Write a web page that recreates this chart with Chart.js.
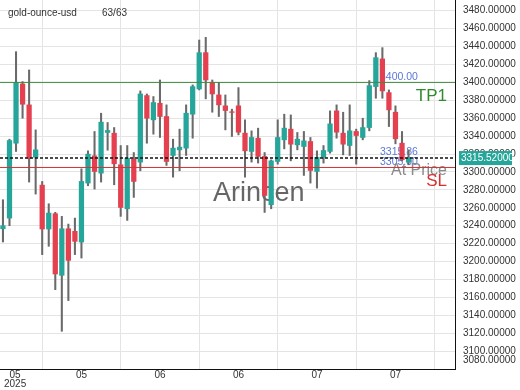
<!DOCTYPE html>
<html>
<head>
<meta charset="utf-8">
<script src="https://cdn.jsdelivr.net/npm/chart.js@4/dist/chart.umd.min.js"></script>
<style>
  html, body { margin: 0; padding: 0; background: #fff; }
</style>
</head>
<body>
<canvas id="myChart" width="520" height="390"></canvas>
<script>
// gold-ounce-usd daily candles (63)
const opens = [3236.6, 3248.5, 3332.1, 3398.3, 3374.9, 3316.5, 3285.3, 3236.3, 3253.4, 3184.6,
  3236.6, 3233.7, 3221.8, 3287.6, 3318.0, 3298.7, 3344.1, 3343.3, 3308.0, 3258.9,
  3314.3, 3311.0, 3385.3, 3358.2, 3376.7, 3361.9, 3318.4, 3324.7, 3326.6, 3364.5,
  3392.7, 3433.2, 3400.1, 3386.0, 3373.8, 3367.2, 3373.8, 3343.3, 3322.9, 3337.7,
  3317.3, 3263.4, 3311.7, 3335.9, 3347.8, 3330.3, 3328.4, 3334.0, 3300.6, 3316.5,
  3322.9, 3368.2, 3343.3, 3329.5, 3345.2, 3338.5, 3349.6, 3395.3, 3426.2, 3388.6,
  3366.7, 3332.1, 3311.0];
const highs = [3269.0, 3336.6, 3434.3, 3400.9, 3413.9, 3347.0, 3289.4, 3264.5, 3255.0, 3250.4,
  3241.8, 3248.5, 3303.5, 3323.6, 3345.2, 3365.6, 3355.2, 3349.6, 3329.5, 3329.5,
  3321.7, 3390.5, 3387.1, 3384.2, 3402.7, 3374.9, 3336.6, 3347.8, 3374.9, 3397.2,
  3447.3, 3450.3, 3402.7, 3400.1, 3386.0, 3370.1, 3394.2, 3358.2, 3345.9, 3348.9,
  3321.7, 3313.5, 3358.2, 3364.5, 3363.7, 3344.1, 3345.2, 3338.5, 3323.6, 3329.5,
  3368.2, 3374.9, 3366.7, 3374.9, 3347.8, 3360.0, 3402.0, 3433.2, 3438.8, 3391.6,
  3373.8, 3345.2, 3324.7];
const lows = [3221.8, 3240.0, 3322.9, 3360.0, 3288.7, 3275.3, 3207.7, 3217.0, 3168.6, 3122.1,
  3156.4, 3207.7, 3203.9, 3284.6, 3280.9, 3288.7, 3324.3, 3285.7, 3250.4, 3245.9,
  3271.6, 3301.3, 3332.1, 3342.2, 3338.5, 3307.3, 3294.2, 3301.3, 3318.4, 3337.7,
  3391.6, 3381.6, 3366.7, 3361.9, 3347.0, 3339.6, 3341.4, 3294.2, 3311.0, 3309.9,
  3254.8, 3258.9, 3308.7, 3325.8, 3312.4, 3324.7, 3296.1, 3287.6, 3282.0, 3309.9,
  3321.0, 3337.7, 3319.1, 3318.4, 3308.7, 3335.9, 3345.9, 3382.3, 3382.3, 3350.7,
  3331.4, 3312.4, 3308.0];
const closes = [3240.0, 3335.1, 3400.1, 3375.6, 3315.4, 3324.7, 3236.3, 3254.1, 3186.1, 3236.6,
  3201.3, 3222.5, 3289.4, 3319.9, 3300.6, 3355.6, 3346.3, 3309.1, 3260.4, 3315.4,
  3289.4, 3387.1, 3360.0, 3377.5, 3361.9, 3311.7, 3326.6, 3327.7, 3365.6, 3395.3,
  3433.2, 3402.7, 3387.1, 3374.9, 3368.6, 3366.5, 3344.4, 3323.6, 3338.5, 3317.3,
  3273.8, 3312.4, 3338.5, 3348.9, 3331.0, 3336.6, 3334.7, 3301.7, 3316.2, 3324.0,
  3353.7, 3344.4, 3331.0, 3345.9, 3340.7, 3349.6, 3396.4, 3427.6, 3390.5, 3369.3,
  3337.0, 3313.6, 3315.52];

const xTickPos = [0, 12, 24, 36, 48, 60];
const xTickLabels = [["05", "2025"], ["05"], ["06"], ["06"], ["07"], ["07"]];
const yTicks = [3080, 3100, 3120, 3140, 3160, 3180, 3200, 3220, 3240, 3260, 3280, 3300,
  3320, 3340, 3360, 3380, 3400, 3420, 3440, 3460, 3480];

const tp1 = 3400.00;
const sl = 3305.00;
const curPrice = 3315.52;
const entryLabel = 3315.86;

const UP = "#26a69a", DOWN = "#e5404f", WICK = "#6a6a6a";
const FONT = "'Liberation Sans', Arial, sans-serif";

let bodies = [], wicks = [], colors = [];
for (let i = 0; i < opens.length; i++) {
  bodies.push({x: i, y: [opens[i], closes[i]]});
  wicks.push({x: i, y: [lows[i], highs[i]]});
  colors.push(closes[i] >= opens[i] ? UP : DOWN);
}

// texts under the candles
const underPlugin = {
  id: "under",
  beforeDatasetsDraw(chart) {
    const c = chart.ctx, ys = chart.scales.y;
    c.save();
    c.textBaseline = "middle";
    c.font = "27px " + FONT;
    c.fillStyle = "rgba(85,85,85,0.9)";
    c.fillText("Arincen", 213, 194);
    c.font = "10.5px " + FONT;
    c.fillStyle = "#5a78d8";
    c.fillText(tp1.toFixed(2), 380, ys.getPixelForValue(tp1) - 5);
    c.fillText(entryLabel.toFixed(2), 380, ys.getPixelForValue(curPrice) - 6);
    c.fillText(sl.toFixed(2), 380, ys.getPixelForValue(curPrice) + 4);
    c.font = "16px " + FONT;
    c.fillStyle = "#8a8a8a";
    c.textAlign = "right";
    c.fillText("At Price", 447, ys.getPixelForValue(sl) + 3);
    c.restore();
  }
};

// level lines, labels, price box, x labels
const overPlugin = {
  id: "over",
  afterDatasetsDraw(chart) {
    const c = chart.ctx, ys = chart.scales.y, a = chart.chartArea;
    c.save();
    c.lineWidth = 1;
    let y = ys.getPixelForValue(tp1);
    c.strokeStyle = "#3d8b3d";
    c.beginPath(); c.moveTo(a.left, y); c.lineTo(a.right, y); c.stroke();
    y = ys.getPixelForValue(sl);
    c.strokeStyle = "#d03535";
    c.beginPath(); c.moveTo(a.left, y); c.lineTo(a.right, y); c.stroke();
    y = ys.getPixelForValue(curPrice);
    c.strokeStyle = "#111";
    c.lineWidth = 1.5;
    c.setLineDash([3, 2]);
    c.beginPath(); c.moveTo(a.left, y); c.lineTo(a.right, y); c.stroke();
    c.setLineDash([]);

    c.textBaseline = "middle";
    c.textAlign = "right";
    c.font = "17px " + FONT;
    c.fillStyle = "#2e8b2e";
    c.fillText("TP1", 447, ys.getPixelForValue(tp1) + 14);
    c.fillStyle = "#d63030";
    c.fillText("SL", 447, ys.getPixelForValue(sl) + 14);

    c.textAlign = "left";
    c.font = "10px " + FONT;
    c.fillStyle = "#333";
    c.fillText("gold-ounce-usd", 8, 13);
    c.fillText("63/63", 102, 13);
    c.restore();
  },
  afterDraw(chart) {
    const c = chart.ctx, ys = chart.scales.y, xs = chart.scales.x, a = chart.chartArea;
    c.save();
    c.font = "10px " + FONT;
    c.textBaseline = "middle";
    // lowest y label kept inside the plot
    c.fillStyle = "#333";
    c.fillText(yTicks[0].toFixed(5), a.right + 8, a.bottom - 9);

    const y = ys.getPixelForValue(curPrice);
    c.fillStyle = UP;
    c.fillRect(459, y - 7, 53, 14);
    c.fillStyle = "#fff";
    c.fillText(curPrice.toFixed(5), 461, y + 0.5);

    c.fillStyle = "#333";
    c.textAlign = "center";
    xTickPos.forEach((v, k) => {
      const lines = xTickLabels[k];
      let w = 0;
      lines.forEach(t => { w = Math.max(w, c.measureText(t).width); });
      const cx = Math.max(xs.getPixelForValue(v), w / 2 + 4);
      lines.forEach((t, j) => c.fillText(t, cx, 375 + j * 9));
    });
    c.restore();
  }
};

const ctx = document.getElementById('myChart').getContext('2d');
const myChart = new Chart(ctx, {
  type: 'bar',
  data: {
    datasets: [{
      data: wicks,
      backgroundColor: WICK,
      barThickness: 1.4,
      grouped: false,
      order: 2
    }, {
      data: bodies,
      backgroundColor: colors,
      barThickness: 4.6,
      grouped: false,
      order: 1
    }]
  },
  options: {
    responsive: false,
    animation: false,
    layout: { padding: 0 },
    plugins: { legend: { display: false }, tooltip: { enabled: false } },
    scales: {
      x: {
        type: 'linear',
        min: -0.45,
        max: 69.1,
        offset: false,
        afterBuildTicks: (s) => { s.ticks = xTickPos.map(v => ({value: v})); },
        afterFit: (s) => { s.height = 21; s.paddingLeft = 0; s.paddingRight = 0; },
        ticks: { display: false },
        grid: { color: "#e4e4e4", drawTicks: false },
        border: { display: true, color: "#111", width: 1 }
      },
      y: {
        position: 'right',
        min: 3080,
        max: 3492,
        afterBuildTicks: (s) => { s.ticks = yTicks.map(v => ({value: v})); },
        afterFit: (s) => { s.width = 65; s.paddingTop = 0; s.paddingBottom = 0; },
        ticks: {
          padding: 8,
          color: "#333",
          font: { family: FONT, size: 10 },
          callback: (v) => (v === yTicks[0] ? "" : Number(v).toFixed(5))
        },
        grid: { color: "#e4e4e4", drawTicks: false },
        border: { display: true, color: "#111", width: 1 }
      }
    }
  },
  plugins: [underPlugin, overPlugin]
});
</script>
</body>
</html>
